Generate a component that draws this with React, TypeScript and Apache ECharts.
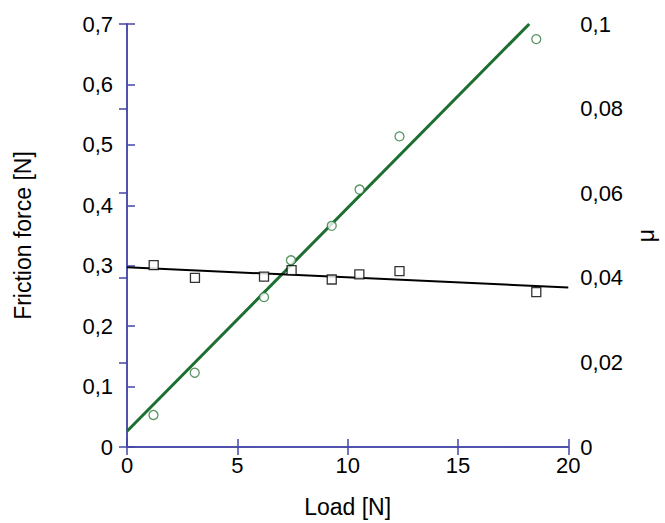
import React, { useEffect, useRef } from "react";
import * as echarts from "echarts";

const loadCircles = [1.2, 3.07, 6.21, 7.43, 9.28, 10.54, 12.35, 18.55];
const frictionForce = [0.053, 0.123, 0.248, 0.309, 0.366, 0.426, 0.514, 0.675];
const loadSquares = [1.21, 3.08, 6.21, 7.46, 9.28, 10.53, 12.35, 18.55];
const mu = [0.043, 0.04, 0.0403, 0.0418, 0.0396, 0.0408, 0.0416, 0.0366];
const forceFitX = [0, 18.23];
const forceFitY = [0.026, 0.7];
const muFitX = [0, 20];
const muFitY = [0.0425, 0.0377];
const xTicks = [0, 5, 10, 15, 20];

const AXIS_BLUE = "#4646a8";
const FONT = "Liberation Sans, Arial, sans-serif";

const fmt = (v: number) => String(+v.toFixed(3)).replace(".", ",");

export default function App() {
  const ref = useRef<HTMLDivElement>(null);
  useEffect(() => {
    if (!ref.current) return;
    const chart = echarts.init(ref.current, undefined, { renderer: "svg" });
    const axisLine = { show: true, lineStyle: { color: AXIS_BLUE, width: 1.5 } };
    const axisTick = { show: true, inside: true, length: 8, lineStyle: { color: AXIS_BLUE, width: 1.5 } };
    const label = { color: "#000", fontSize: 22, fontFamily: FONT };
    const nameStyle = { color: "#000", fontSize: 23, fontFamily: FONT };
    chart.setOption({
      animation: false,
      backgroundColor: "#fff",
      grid: { left: 127, right: 82, top: 24, bottom: 75, containLabel: false },
      xAxis: [
        {
          type: "value",
          min: xTicks[0],
          max: xTicks[xTicks.length - 1],
          interval: 5,
          position: "bottom",
          axisLine,
          axisTick,
          splitLine: { show: false },
          axisLabel: { ...label, margin: 7, formatter: (v: number) => fmt(v) },
          name: "Load [N]",
          nameLocation: "middle",
          nameGap: 48,
          nameTextStyle: nameStyle,
        },
        {
          type: "value",
          min: 0,
          max: 20,
          interval: 5,
          position: "top",
          axisLine,
          axisTick,
          splitLine: { show: false },
          axisLabel: { show: false },
        },
      ],
      yAxis: [
        {
          type: "value",
          min: 0,
          max: 0.7,
          interval: 0.1,
          position: "left",
          axisLine,
          axisTick,
          splitLine: { show: false },
          axisLabel: { ...label, margin: 14, formatter: (v: number) => fmt(v) },
          name: "Friction force [N]",
          nameLocation: "middle",
          nameGap: 93,
          nameTextStyle: nameStyle,
        },
        {
          type: "value",
          min: 0,
          max: 0.1,
          interval: 0.02,
          position: "right",
          axisLine,
          axisTick,
          splitLine: { show: false },
          axisLabel: { ...label, margin: 12, formatter: (v: number) => fmt(v) },
          name: "μ",
          nameLocation: "middle",
          nameGap: 61,
          nameTextStyle: nameStyle,
        },
      ],
      series: [
        {
          type: "line",
          xAxisIndex: 0,
          yAxisIndex: 0,
          data: forceFitX.map((x, i) => [x, forceFitY[i]]),
          showSymbol: false,
          symbol: "none",
          lineStyle: { color: "#1d6e31", width: 3 },
          z: 2,
        },
        {
          type: "line",
          xAxisIndex: 0,
          yAxisIndex: 1,
          data: muFitX.map((x, i) => [x, muFitY[i]]),
          showSymbol: false,
          symbol: "none",
          lineStyle: { color: "#000", width: 2 },
          z: 2,
        },
        {
          type: "scatter",
          xAxisIndex: 0,
          yAxisIndex: 0,
          data: loadCircles.map((x, i) => [x, frictionForce[i]]),
          symbol: "circle",
          symbolSize: 9,
          itemStyle: { color: "#fff", borderColor: "#2e7a3c", borderWidth: 1.3 },
          z: 3,
        },
        {
          type: "scatter",
          xAxisIndex: 0,
          yAxisIndex: 1,
          data: loadSquares.map((x, i) => [x, mu[i]]),
          symbol: "rect",
          symbolSize: 9,
          itemStyle: { color: "#fff", borderColor: "#000", borderWidth: 1.3 },
          z: 3,
        },
      ],
    });
    return () => chart.dispose();
  }, []);
  return (
    <div
      ref={ref}
      style={{ position: "absolute", left: 0, top: 0, width: 665, height: 523 }}
    />
  );
}
